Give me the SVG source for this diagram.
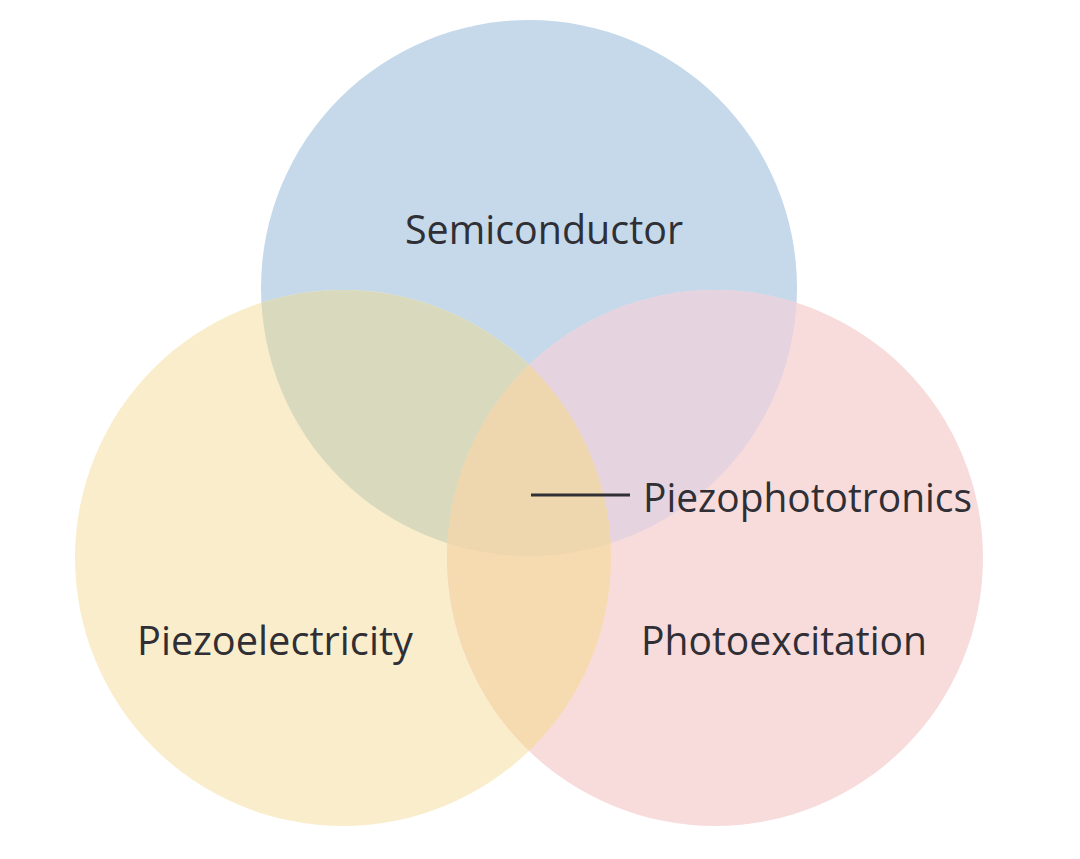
<svg xmlns="http://www.w3.org/2000/svg" width="1080" height="859" viewBox="0 0 1080 859">
<style>
.lbl{font-family:"Open Sans","Liberation Sans",sans-serif;font-size:40px;fill:#2f2f35}
</style>
<defs>
<clipPath id="cB"><circle cx="529" cy="288" r="268"/></clipPath>
<clipPath id="cY"><circle cx="343" cy="558" r="268"/></clipPath>
<clipPath id="cP"><circle cx="715" cy="558" r="268"/></clipPath>
</defs>
<rect width="1080" height="859" fill="#ffffff"/>
<g id="semiconductor">
<circle cx="529" cy="288" r="268" fill="#c5d9ea"/>
</g>
<g id="piezoelectricity">
<circle cx="343" cy="558" r="268" fill="#faedcb"/>
</g>
<g id="photoexcitation">
<circle cx="715" cy="558" r="268" fill="#f8dcdc"/>
</g>
<g id="overlaps">
<circle cx="343" cy="558" r="268" fill="#d9dabd" clip-path="url(#cB)"/>
<circle cx="715" cy="558" r="268" fill="#e5d4df" clip-path="url(#cB)"/>
<circle cx="715" cy="558" r="268" fill="#f7dbb0" clip-path="url(#cY)"/>
<g clip-path="url(#cB)"><circle cx="715" cy="558" r="268" fill="#eed6ae" clip-path="url(#cY)"/></g>
</g>
<g id="connectors">
<line x1="531" y1="495" x2="630" y2="495" stroke="#2f2f35" stroke-width="3"/>
</g>
<g id="labels">
<text class="lbl" x="405" y="244" textLength="278" lengthAdjust="spacingAndGlyphs">Semiconductor</text>
<text class="lbl" x="643" y="512" textLength="329" lengthAdjust="spacingAndGlyphs">Piezophototronics</text>
<text class="lbl" x="137" y="655" textLength="276" lengthAdjust="spacingAndGlyphs">Piezoelectricity</text>
<text class="lbl" x="641" y="655" textLength="286" lengthAdjust="spacingAndGlyphs">Photoexcitation</text>
</g>
</svg>
